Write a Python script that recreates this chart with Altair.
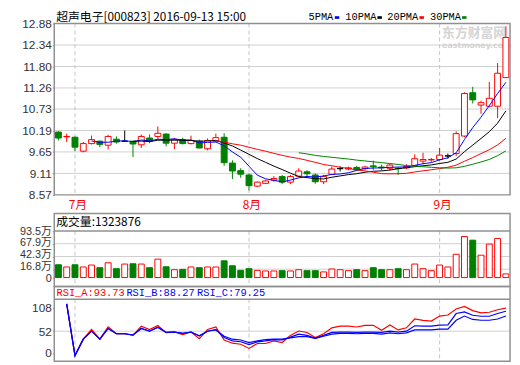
import altair as alt
import pandas as pd

# ---------------- data ----------------
dates = ["2016-06-29", "2016-06-30",
         "2016-07-01", "2016-07-04", "2016-07-05", "2016-07-06", "2016-07-07", "2016-07-08",
         "2016-07-11", "2016-07-12", "2016-07-13", "2016-07-14", "2016-07-15",
         "2016-07-18", "2016-07-19", "2016-07-20", "2016-07-21", "2016-07-22",
         "2016-07-25", "2016-07-26", "2016-07-27", "2016-07-28", "2016-07-29",
         "2016-08-01", "2016-08-02", "2016-08-03", "2016-08-04", "2016-08-05",
         "2016-08-08", "2016-08-09", "2016-08-10", "2016-08-11", "2016-08-12",
         "2016-08-15", "2016-08-16", "2016-08-17", "2016-08-18", "2016-08-19",
         "2016-08-22", "2016-08-23", "2016-08-24", "2016-08-25", "2016-08-26",
         "2016-08-29", "2016-08-30", "2016-08-31",
         "2016-09-01", "2016-09-02", "2016-09-05", "2016-09-06", "2016-09-07",
         "2016-09-08", "2016-09-09", "2016-09-12", "2016-09-13"]

opens = [10.15, 10.03, 10.02, 9.67, 9.86, 9.92, 9.82, 9.97, 9.92, 9.92,
         9.83, 10.00, 10.04, 10.10, 9.87, 9.96, 9.86, 9.92, 9.73, 9.92,
         10.02, 9.37, 9.18, 9.07, 8.79, 8.86, 8.94, 9.03, 8.89, 9.04,
         9.15, 9.07, 8.90, 9.09, 9.23, 9.22, 9.26, 9.23, 9.30, 9.27,
         9.24, 9.24, 9.25, 9.31, 9.42, 9.45, 9.46, 9.55, 9.61, 10.05,
         11.14, 10.83, 10.80, 10.80, 11.52]
highs = [10.17, 10.11, 10.04, 9.90, 10.06, 9.94, 10.08, 10.04, 10.19, 9.92,
         10.09, 10.09, 10.29, 10.12, 10.00, 10.01, 10.06, 9.96, 9.99, 10.11,
         10.12, 9.44, 9.24, 9.11, 8.91, 8.95, 9.04, 9.07, 9.07, 9.24,
         9.19, 9.11, 9.07, 9.28, 9.29, 9.28, 9.30, 9.30, 9.43, 9.33,
         9.36, 9.26, 9.34, 9.59, 9.63, 9.50, 9.75, 9.61, 10.17, 11.15,
         11.29, 10.94, 11.41, 11.89, 12.81]
lows = [9.94, 9.90, 9.67, 9.64, 9.84, 9.77, 9.71, 9.86, 9.90, 9.52,
        9.75, 9.87, 9.98, 9.79, 9.72, 9.84, 9.84, 9.74, 9.69, 9.90,
        9.30, 8.97, 9.00, 8.68, 8.76, 8.84, 8.90, 8.84, 8.84, 9.02,
        9.04, 8.85, 8.84, 9.07, 9.16, 9.19, 9.17, 9.20, 9.20, 9.18,
        9.18, 9.07, 9.22, 9.28, 9.34, 9.40, 9.43, 9.48, 9.55, 10.02,
        10.87, 10.61, 10.77, 10.50, 11.52]
closes = [10.00, 10.04, 9.77, 9.86, 9.96, 9.84, 10.04, 9.90, 9.92, 9.85,
          10.04, 9.92, 10.12, 9.87, 9.96, 9.86, 9.94, 9.75, 9.94, 10.01,
          9.38, 9.17, 9.09, 8.80, 8.89, 8.92, 8.98, 8.89, 9.03, 9.17,
          9.10, 8.90, 9.03, 9.22, 9.23, 9.25, 9.20, 9.27, 9.28, 9.25,
          9.32, 9.23, 9.28, 9.48, 9.46, 9.46, 9.57, 9.55, 10.11, 11.12,
          10.96, 10.89, 11.00, 11.63, 12.53]
# volume in 万
volumes = [25.7, 21.2, 25.7, 21.2, 25.1, 19.8, 29.7, 17.8, 27.1, 27.7,
           27.1, 19.8, 37.0, 21.7, 15.8, 16.4, 21.2, 19.8, 21.2, 21.2,
           33.6, 23.7, 14.4, 17.8, 14.4, 13.2, 13.2, 13.8, 13.2, 15.8,
           13.8, 13.8, 11.3, 17.2, 15.8, 13.8, 15.8, 13.8, 19.8, 15.8,
           15.8, 17.8, 15.8, 27.1, 17.8, 13.8, 25.1, 21.2, 46.8, 82.4,
           75.1, 44.9, 67.2, 78.5, 7.3]
rsi_a = [None, 117, -6, 33, 56, 33, 62.5, 46, 46, 42,
         64, 56, 65.6, 48.5, 50, 44, 50, 34.4, 56, 62,
         31, 23.5, 21, 11, 22.7, 22.7, 29, 25, 42, 52.4,
         49, 36.8, 46, 60, 64, 64, 62, 66, 66, 54,
         66.7, 55, 60, 81, 77.6, 76, 88, 90.5, 104.7, 111,
         101, 95.5, 97, 103, 107]
rsi_b = [None, 117, -6, 33, 52, 33, 58.6, 46, 46, 43,
         58.6, 52, 61.8, 49, 50, 47, 50, 40.7, 52, 56,
         37, 29, 27, 20, 26.7, 29, 32, 31, 38, 45,
         42, 35, 42, 49, 50, 50, 49, 50, 50, 49,
         52, 50, 52, 65, 64, 64, 66.5, 67, 94, 98,
         90, 87.5, 87.5, 94, 99.5]
rsi_c = [None, 117, -6, 33, 52, 33, 58.6, 46, 46, 43,
         58.6, 52, 61, 49, 50, 47, 50, 41, 52, 55,
         40, 33, 31, 25, 29, 32, 33, 33, 36, 39,
         39, 35, 40, 45, 47, 47, 46, 47, 47, 45,
         48, 46, 48, 55, 55, 55, 57, 57, 78, 88,
         80, 78, 78, 81, 88]

price_ticks = [8.57, 9.11, 9.65, 10.19, 10.73, 11.26, 11.80, 12.34, 12.88]
vol_ticks = [0, 16.8, 42.3, 67.9, 93.5]
rsi_ticks = [0, 52, 108]
month_starts = ["2016-07-01", "2016-08-01", "2016-09-01"]
month_labels = ["7月", "8月", "9月"]
ma_names = ["5PMA", "10PMA", "20PMA", "30PMA"]
ma_periods = [5, 10, 20, 30]
title_text = "超声电子[000823] 2016-09-13 15:00"
vol_text = "成交量:1323876"
rsi_texts = ["RSI_A:93.73", "RSI_B:88.27", "RSI_C:79.25"]
watermark = ["东方财富网", "eastmoney.com"]

# ---------------- layout / style ----------------
W, H = 463, 343
RED, GREEN, BLUE, BLACK = "#ff0000", "#008000", "#0000ff", "#000000"
GRID, FRAME, DASH = "#cfcfcf", "#909090", "#c4c4c4"
MA_COLORS = [BLUE, BLACK, RED, GREEN]
RSI_COLORS = [RED, BLUE, BLUE]
LEG_TEXT_X = [258.3, 295.7, 338.3, 381.7]
LEG_SW_X = [285.0, 328.3, 371.0, 414.3]
RSI_TEXT_X = [2.3, 73.3, 145.0]

PRICE = alt.Scale(domain=[4.3838, 12.88], nice=False, zero=False)
VOL = alt.Scale(domain=[-168.02, 510.0], nice=False, zero=False)
RSIS = alt.Scale(domain=[-19.44, 783.8], nice=False, zero=False)
XS = alt.Scale(type="band", domain=dates, paddingInner=0, paddingOuter=0)
STROKES = alt.Scale(domain=["up", "down", "flat"], range=[RED, GREEN, BLACK])
FILLS = alt.Scale(domain=["up", "down", "flat"], range=["#ffffff", GREEN, BLACK])

df = pd.DataFrame({"date": dates, "idx": list(range(len(dates))),
                   "open": opens, "high": highs, "low": lows, "close": closes,
                   "volume": volumes, "rsi_a": rsi_a, "rsi_b": rsi_b, "rsi_c": rsi_c})
months = pd.DataFrame({"date": month_starts, "label": month_labels})

X = alt.X("date:O", scale=XS, axis=None)
AX = dict(orient="left", domain=False, ticks=True, tickSize=2, tickColor=FRAME,
          labelPadding=1, labelFont="Liberation Sans, Noto Sans CJK SC",
          labelFontSize=12, labelColor="#333333", grid=False, title=None,
          labelOverlap=False)
DIR = "datum.close > datum.open ? 'up' : (datum.close < datum.open ? 'down' : 'flat')"
VDIR = "datum.close >= datum.open ? 'up' : 'down'"
VOL_LABEL_OFFSET = {"condition": [{"test": "datum.value == 0", "value": 1},
                                  {"test": "datum.value < 20", "value": -2.2},
                                  {"test": "datum.value < 50", "value": -2.1},
                                  {"test": "datum.value < 80", "value": -1.1}],
                    "value": 0.6}


def one_row(**kw):
    return pd.DataFrame({k: [v] for k, v in kw.items()} or {"k": [0]})


layers = []

# watermark
layers.append(alt.Chart(one_row(t=watermark[0])).mark_text(
    align="left", baseline="alphabetic", font="Noto Sans CJK SC", fontSize=13,
    fontWeight="bold", color="#d4d4d4").encode(
    x=alt.value(394), y=alt.value(14), text="t:N"))
layers.append(alt.Chart(one_row(t=watermark[1])).mark_text(
    align="left", baseline="alphabetic", font="DejaVu Sans", fontSize=8,
    fontWeight="bold", color="#d4d4d4").encode(
    x=alt.value(394), y=alt.value(25), text="t:N"))

# horizontal grids + axes
layers.append(alt.Chart(pd.DataFrame({"v": price_ticks[1:-1]})).mark_rule(
    color=GRID, strokeWidth=1).encode(
    x=alt.value(0), x2=alt.value(W),
    y=alt.Y("v:Q", scale=PRICE, axis=alt.Axis(values=price_ticks, format=".2f", **AX))))
vol_ax = dict(AX, labelFontSize=11)
layers.append(alt.Chart(pd.DataFrame({"v": vol_ticks[1:4]})).mark_rule(
    color=GRID, strokeWidth=1).encode(
    x=alt.value(0), x2=alt.value(W),
    y=alt.Y("v:Q", scale=VOL, axis=alt.Axis(
        values=vol_ticks,
        labelExpr="datum.value == 0 ? '0' : format(datum.value, '.1f') + '万'",
        labelOffset=VOL_LABEL_OFFSET,
        **vol_ax))))
layers.append(alt.Chart(pd.DataFrame({"v": rsi_ticks[1:2]})).mark_rule(
    color=GRID, strokeWidth=1).encode(
    x=alt.value(0), x2=alt.value(W),
    y=alt.Y("v:Q", scale=RSIS, axis=alt.Axis(values=rsi_ticks, format="d", **AX))))

# dashed month separators
for sc, top, bot in [(PRICE, 12.88, 8.57), (VOL, 93.5, -17.79), (RSIS, 128.1, -19.44)]:
    layers.append(alt.Chart(months).mark_rule(
        color=DASH, strokeWidth=1, strokeDash=[4, 3]).encode(
        x=X, y=alt.Y(datum=top, type="quantitative", scale=sc, axis=None),
        y2=alt.Y2(datum=bot)))

# candles
base = alt.Chart(df)
layers.append(base.transform_calculate(dir=DIR).mark_rule(strokeWidth=1).encode(
    x=X, y=alt.Y("low:Q", scale=PRICE, axis=None), y2="high:Q",
    color=alt.Color("dir:N", scale=STROKES, legend=None)))
layers.append(base.transform_calculate(dir=DIR).mark_bar(size=6, strokeWidth=1).encode(
    x=X, y=alt.Y("open:Q", scale=PRICE, axis=None), y2="close:Q",
    fill=alt.Fill("dir:N", scale=FILLS, legend=None),
    stroke=alt.Stroke("dir:N", scale=STROKES, legend=None)))

# moving averages
for n, col in zip(ma_periods, MA_COLORS):
    layers.append(base.transform_window(
        ma="mean(close)", cnt="count()", frame=[-(n - 1), 0],
        sort=[alt.SortField("idx")]).transform_filter(
        f"datum.cnt >= {n}").mark_line(color=col, strokeWidth=1).encode(
        x=X, y=alt.Y("ma:Q", scale=PRICE, axis=None)))

# volume bars
layers.append(base.transform_calculate(dir=VDIR).mark_bar(size=6, strokeWidth=1).encode(
    x=X, y=alt.Y("volume:Q", scale=VOL, axis=None), y2=alt.Y2(datum=0),
    fill=alt.Fill("dir:N", scale=FILLS, legend=None),
    stroke=alt.Stroke("dir:N", scale=STROKES, legend=None)))

# RSI lines
for fld, col in zip(["rsi_a", "rsi_b", "rsi_c"], RSI_COLORS):
    layers.append(base.mark_line(color=col, strokeWidth=1.2).encode(
        x=X, y=alt.Y(f"{fld}:Q", scale=RSIS, axis=None)))

# month labels
layers.append(alt.Chart(months).mark_text(
    align="center", baseline="alphabetic", dx=3, font="Noto Sans CJK SC",
    fontSize=12, color=RED).encode(x=X, y=alt.value(188.5), text="label:N"))

# frames and dividers
for sc, top, bot in [(PRICE, 12.88, 8.57), (VOL, 128.49, -17.79), (RSIS, 158.5, -19.44)]:
    layers.append(alt.Chart(one_row()).mark_rect(
        fill="transparent", stroke=FRAME, strokeWidth=1.5).encode(
        x=alt.value(0), x2=alt.value(W),
        y=alt.Y(datum=top, type="quantitative", scale=sc, axis=None),
        y2=alt.Y2(datum=bot)))
for sc, v in [(VOL, 93.5), (RSIS, 128.1)]:
    layers.append(alt.Chart(one_row()).mark_rule(color=FRAME, strokeWidth=1.5).encode(
        x=alt.value(0), x2=alt.value(W),
        y=alt.Y(datum=v, type="quantitative", scale=sc, axis=None)))

# header texts
layers.append(alt.Chart(one_row(t=title_text)).mark_text(
    align="left", baseline="alphabetic", font="Noto Sans CJK SC", fontSize=12,
    color=BLACK).encode(x=alt.value(2), y=alt.value(-2.5), text="t:N"))
for name, col, tx, sx in zip(ma_names, MA_COLORS, LEG_TEXT_X, LEG_SW_X):
    layers.append(alt.Chart(one_row(t=name)).mark_text(
        align="left", baseline="alphabetic", font="Liberation Mono", fontSize=10.5,
        color=BLACK).encode(x=alt.value(tx), y=alt.value(-3.5), text="t:N"))
    layers.append(alt.Chart(one_row()).mark_rect(color=col).encode(
        x=alt.value(sx), x2=alt.value(sx + 4.5), y=alt.value(-7.5), y2=alt.value(-4.8)))
layers.append(alt.Chart(one_row(t=vol_text)).mark_text(
    align="left", baseline="alphabetic", font="Noto Sans CJK SC", fontSize=12,
    color=BLACK).encode(x=alt.value(2), y=alt.value(205.5), text="t:N"))
for txt, col, tx in zip(rsi_texts, RSI_COLORS, RSI_TEXT_X):
    layers.append(alt.Chart(one_row(t=txt)).mark_text(
        align="left", baseline="alphabetic", font="Liberation Mono", fontSize=10.5,
        color=col).encode(x=alt.value(tx), y=alt.value(277), text="t:N"))

chart = alt.layer(*layers).resolve_scale(y="independent").properties(
    width=W, height=H,
    autosize=alt.AutoSizeParams(type="none"),
    padding={"left": 47, "top": 13, "right": 2, "bottom": 1},
    background="white",
).configure_view(stroke="transparent")

chart.save("out.html", embed_options={"renderer": "svg", "actions": False})
